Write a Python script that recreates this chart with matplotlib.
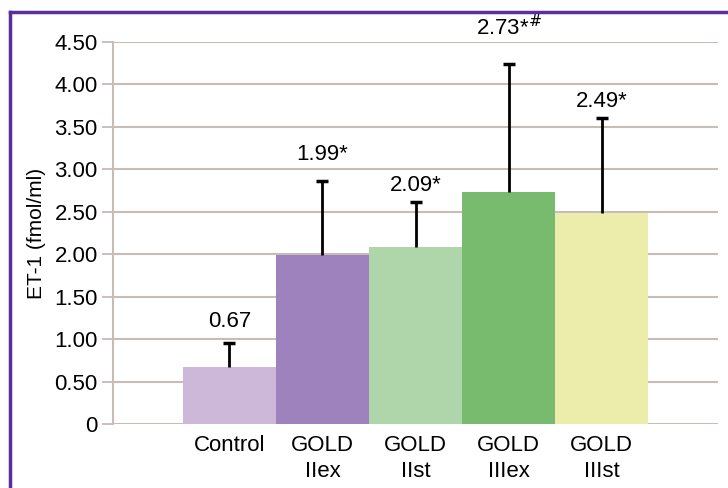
import numpy as np
import matplotlib.pyplot as plt
from matplotlib.lines import Line2D

plt.rcParams['font.family'] = ['Liberation Sans', 'DejaVu Sans']

groups = ['Control', 'GOLD\nIIex', 'GOLD\nIIst', 'GOLD\nIIIex', 'GOLD\nIIIst']
means = [0.67, 1.99, 2.09, 2.73, 2.49]
sds = [0.28, 0.87, 0.52, 1.51, 1.11]
marks = ['', '*', '*', '*$^{\\#}$', '*']
yticks = [0, 0.5, 1.0, 1.5, 2.0, 2.5, 3.0, 3.5, 4.0, 4.5]
ytick_labels = ['0', '0.50', '1.00', '1.50', '2.00', '2.50', '3.00', '3.50', '4.00', '4.50']

colors = ['#cdb8da', '#9e82bd', '#afd6aa', '#78ba6e', '#ecedaa']
label_pad = [16, 19, 12, 26, 12]

fig = plt.figure(figsize=(7.28, 4.88), dpi=100)
ax = fig.add_axes([113 / 728, 1 - 424 / 488, 605 / 728, 382 / 488])

x = np.arange(len(groups))
tops = np.array(means) + np.array(sds)
ax.bar(x, means, width=1.0, color=colors, zorder=2)
# upper error bars only
ax.vlines(x, means, tops, color='black', lw=2, zorder=3)
ax.plot(x, tops, ls='none', marker='_', ms=8, mew=2.5, color='black', zorder=3)

for xi, m, t, mk, pad in zip(x, means, tops, marks, label_pad):
    ax.annotate(f'{m:.2f}{mk}', (xi, t), xytext=(0, pad),
                textcoords='offset points', ha='center', va='center', fontsize=16)

ax.set_xlim(-1.25, 5.25)
ax.set_ylim(0, 4.5)
ax.set_yticks(yticks)
ax.set_yticklabels(ytick_labels, fontsize=16)
ax.set_xticks(x)
ax.set_xticklabels(groups, fontsize=16, linespacing=1.3)
ax.tick_params(axis='x', length=0, pad=8)
ax.tick_params(axis='y', length=8, width=1.2, color='#c0b4b0', pad=3)

ax.grid(axis='y', color='#c8bcb8', linewidth=1.5, zorder=0)
ax.set_axisbelow(True)
for side in ['top', 'right', 'bottom']:
    ax.spines[side].set_visible(False)
ax.spines['left'].set_color('#c8bcb8')
ax.spines['left'].set_linewidth(1.5)
ax.set_ylabel('ET-1 (fmol/ml)', fontsize=15, labelpad=6)

# purple frame around the figure (runs off the right and bottom edges)
frame = '#5a2e9c'
fig.add_artist(Line2D([10 / 728, 10 / 728], [0, 1 - 12 / 488], color=frame, lw=2.5,
                      transform=fig.transFigure, solid_capstyle='projecting'))
fig.add_artist(Line2D([10 / 728, 1], [1 - 12 / 488, 1 - 12 / 488], color=frame, lw=2.5,
                      transform=fig.transFigure, solid_capstyle='projecting'))

fig.savefig('out.png', dpi=100)
